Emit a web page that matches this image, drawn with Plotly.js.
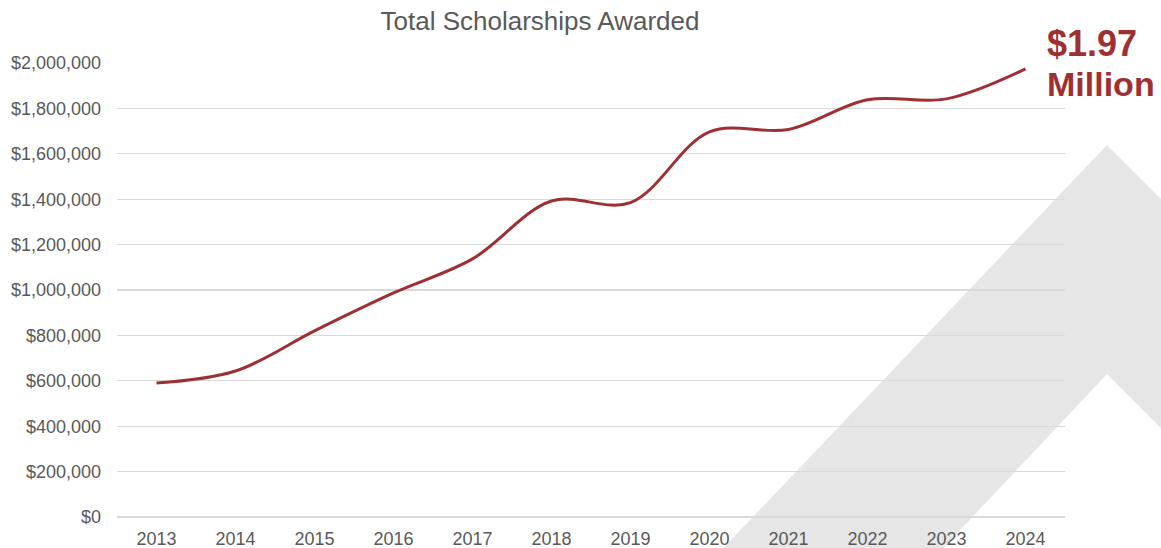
<!DOCTYPE html>
<html>
<head>
<meta charset="utf-8">
<script src="https://cdn.plot.ly/plotly-3.0.1.min.js"></script>
<style>html,body{margin:0;padding:0;background:#fff;}#chart{width:1161px;height:548px;}</style>
</head>
<body>
<div id="chart"></div>
<script>
const years = ['2013','2014','2015','2016','2017','2018','2019','2020','2021','2022','2023','2024'];
const scholarships = [590000, 643000, 820000, 987000, 1137000, 1392000, 1385000, 1697000, 1707000, 1838000, 1842000, 1974000];
const yTickVals = [0,200000,400000,600000,800000,1000000,1200000,1400000,1600000,1800000,2000000];
const yTickText = ['$0','$200,000','$400,000','$600,000','$800,000','$1,000,000','$1,200,000','$1,400,000','$1,600,000','$1,800,000','$2,000,000'];

const W = 1161, H = 548;
const M = {l:117, r:96, t:63, b:31};
const pw = W - M.l - M.r, ph = H - M.t - M.b;
function px(x){ return (x - M.l)/pw; }
function py(y){ return (H - M.b - y)/ph; }
// decorative background arrow (pixel outline converted to paper coords)
const arrowPts = [[712,560],[1107,145],[1175,213],[1175,442],[1107,374],[932,560]];
const arrowPath = arrowPts.map((p,i)=>(i?'L':'M')+px(p[0]).toFixed(4)+','+py(p[1]).toFixed(4)).join(' ')+' Z';

const red = '#9e3034';
const grey = '#595959';
const font = 'Liberation Sans, Arial, sans-serif';

const trace = {
  x: years, y: scholarships, type:'scatter', mode:'lines',
  line:{color:red, width:3, shape:'spline', smoothing:1},
  hoverinfo:'x+y'
};

const layout = {
  width:W, height:H,
  margin:M,
  paper_bgcolor:'#fff', plot_bgcolor:'rgba(0,0,0,0)',
  showlegend:false,
  font:{family:font, color:grey, size:18},
  title:{text:'Total Scholarships Awarded', font:{family:font, size:26, color:grey},
         xref:'paper', x:px(540), xanchor:'center', yref:'container', y:1-21/H, yanchor:'middle'},
  xaxis:{type:'category', range:[-0.5,11.5], showgrid:false, zeroline:false, showline:false,
         ticks:'', ticklabelstandoff:9, tickfont:{family:font, size:18, color:grey}, fixedrange:true},
  yaxis:{range:[0,2000000], tickvals:yTickVals, ticktext:yTickText, showgrid:true,
         gridcolor:'#d9d9d9', gridwidth:1.3, zeroline:true, zerolinecolor:'#d9d9d9', zerolinewidth:1.3,
         showline:false, ticks:'',
         ticklabelstandoff:15, tickfont:{family:font, size:18, color:grey}, fixedrange:true},
  shapes:[{type:'path', xref:'paper', yref:'paper', path:arrowPath, fillcolor:'#e6e6e6',
           line:{width:0}, layer:'below'}],
  annotations:[
    {text:'<b>$1.97</b>', xref:'paper', yref:'paper', x:px(1045), y:py(43), xanchor:'left', yanchor:'middle',
     showarrow:false, font:{family:font, size:36, color:red}},
    {text:'<b>Million</b>', xref:'paper', yref:'paper', x:px(1045), y:py(84), xanchor:'left', yanchor:'middle',
     showarrow:false, font:{family:font, size:34, color:red}}
  ]
};

Plotly.newPlot('chart', [trace], layout, {displayModeBar:false, staticPlot:true});
</script>
</body>
</html>
